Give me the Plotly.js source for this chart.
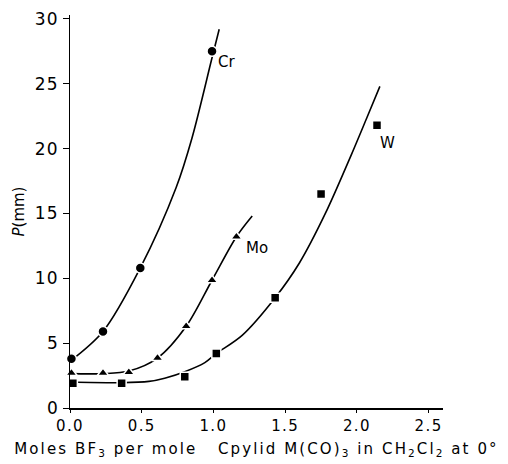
<!DOCTYPE html>
<html><head><meta charset="utf-8">
<script src="https://cdn.plot.ly/plotly-3.0.1.min.js"></script>
<style>
html,body{margin:0;padding:0;background:#fff}#c{width:508px;height:464px}
.xtitle{letter-spacing:2.1px}
.ytick text,.xtick text{letter-spacing:1.4px}
</style>
</head><body><div id="c"></div>
<script>
// Measured points
const crX = [0.01, 0.23, 0.49, 0.99];
const crY = [3.8, 5.9, 10.8, 27.5];
const moX = [0.01, 0.23, 0.41, 0.61, 0.81, 0.99, 1.16];
const moY = [2.7, 2.7, 2.75, 3.85, 6.3, 9.85, 13.2];
const wX = [0.02, 0.36, 0.8, 1.02, 1.43, 1.75, 2.14];
const wY = [1.9, 1.9, 2.4, 4.2, 8.5, 16.5, 21.8];
// Hand-drawn fitted curves
const crCurveX = [0.0, 0.23, 0.49, 0.74, 0.85, 0.99, 1.04];
const crCurveY = [3.6, 5.9, 10.8, 17.0, 20.8, 27.0, 29.2];
const moCurveX = [0.0, 0.23, 0.41, 0.61, 0.81, 0.99, 1.16, 1.27];
const moCurveY = [2.65, 2.65, 2.85, 3.85, 6.3, 9.85, 13.2, 14.8];
const wCurveX = [0.0, 0.36, 0.55, 0.66, 0.8, 0.94, 1.02, 1.2, 1.43, 1.6, 1.78, 1.96, 2.07, 2.16];
const wCurveY = [2.0, 1.95, 2.05, 2.3, 2.8, 3.5, 4.2, 5.6, 8.5, 11.2, 15.0, 19.5, 22.4, 24.8];
const labels = ["Cr", "Mo", "W"];
const labelX = [1.09, 1.3, 2.21];
const labelY = [26.7, 12.3, 20.4];
const xTicks = [0, 0.5, 1.0, 1.5, 2.0, 2.5];
const xTickText = ["0.0", "0.5", "1.0", "1.5", "2.0", "2.5"];
const yTicks = [0, 5, 10, 15, 20, 25, 30];

const lineStyle = {color: "#000", width: 1.6, shape: "spline", smoothing: 0.9};
const mk = (sym, size) => ({symbol: sym, size: size, color: "#000", line: {color: "#fff", width: 1.5}});
const traces = [
  {x: crCurveX, y: crCurveY, mode: "lines", line: lineStyle, hoverinfo: "skip"},
  {x: moCurveX, y: moCurveY, mode: "lines", line: lineStyle, hoverinfo: "skip"},
  {x: wCurveX, y: wCurveY, mode: "lines", line: lineStyle, hoverinfo: "skip"},
  {x: crX, y: crY, mode: "markers", marker: mk("circle", 10), cliponaxis: false},
  {x: moX, y: moY, mode: "markers", marker: mk("triangle-up", 10), cliponaxis: false},
  {x: wX, y: wY, mode: "markers", marker: mk("square", 9), cliponaxis: false}
];
const font = {family: "DejaVu Sans, sans-serif", color: "#000"};
const layout = {
  width: 508, height: 464,
  margin: {l: 70, r: 65, t: 15, b: 56},
  paper_bgcolor: "#fff", plot_bgcolor: "#fff",
  showlegend: false,
  font: font,
  xaxis: {range: [0, 2.6], tickvals: xTicks, ticktext: xTickText, ticks: "outside", ticklen: 3,
    tickcolor: "#000", showline: true, linecolor: "#000", linewidth: 1.5, showgrid: false, zeroline: false,
    tickfont: {family: font.family, size: 15, color: "#000"},
    title: {text: "Moles BF<sub>3</sub> per mole&nbsp;&nbsp; Cpylid M(CO)<sub>3</sub> in CH<sub>2</sub>Cl<sub>2</sub> at 0°",
      font: {family: font.family, size: 15, color: "#000"}, standoff: 10}},
  yaxis: {range: [0, 30.3], tickvals: yTicks, ticks: "outside", ticklen: 6,
    tickcolor: "#000", showline: true, linecolor: "#000", linewidth: 1.5, showgrid: false, zeroline: false,
    tickfont: {family: font.family, size: 17, color: "#000"},
    title: {text: "<i>P</i>(mm)", font: {family: font.family, size: 15, color: "#000"}, standoff: 6}},
  annotations: labels.map((t, i) => ({x: labelX[i], y: labelY[i], text: t, showarrow: false,
    font: {family: font.family, size: 15, color: "#000"}}))
};
Plotly.newPlot("c", traces, layout, {displayModeBar: false, staticPlot: true});
</script></body></html>
